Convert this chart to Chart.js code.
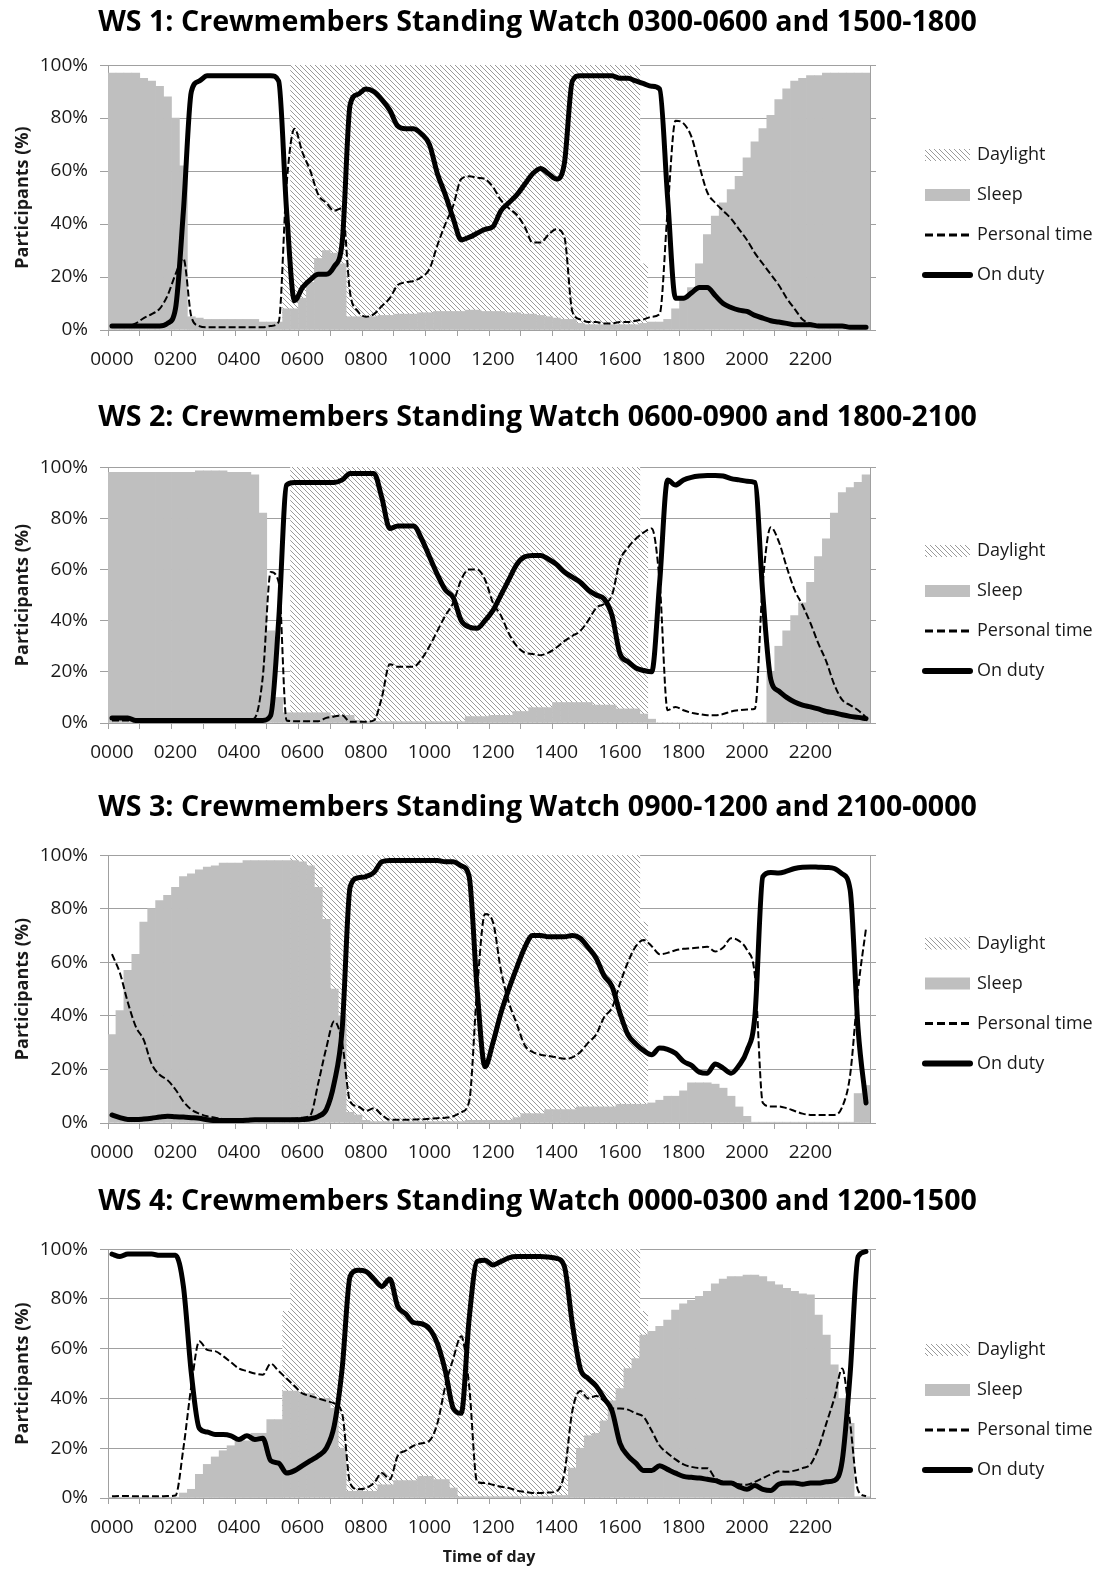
<!DOCTYPE html>
<html>
<head>
<meta charset="utf-8">
<script src="https://cdn.jsdelivr.net/npm/chart.js@4.4.1/dist/chart.umd.min.js"></script>
<style>
html,body{margin:0;padding:0;background:#fff;}
#wrap{position:relative;width:1101px;height:1572px;overflow:hidden;}
canvas{position:absolute;left:0;}
</style>
</head>
<body>
<div id="wrap">
<canvas id="c1" width="1101" height="375" style="top:0px"></canvas>
<canvas id="c2" width="1101" height="393" style="top:375px"></canvas>
<canvas id="c3" width="1101" height="400" style="top:768px"></canvas>
<canvas id="c4" width="1101" height="404" style="top:1168px"></canvas>
</div>
<script>
// ---------- categories (15-minute slots) ----------
const timeLabels = [
'0000','0015','0030','0045','0100','0115','0130','0145',
'0200','0215','0230','0245','0300','0315','0330','0345',
'0400','0415','0430','0445','0500','0515','0530','0545',
'0600','0615','0630','0645','0700','0715','0730','0745',
'0800','0815','0830','0845','0900','0915','0930','0945',
'1000','1015','1030','1045','1100','1115','1130','1145',
'1200','1215','1230','1245','1300','1315','1330','1345',
'1400','1415','1430','1445','1500','1515','1530','1545',
'1600','1615','1630','1645','1700','1715','1730','1745',
'1800','1815','1830','1845','1900','1915','1930','1945',
'2000','2015','2030','2045','2100','2115','2130','2145',
'2200','2215','2230','2245','2300','2315','2330','2345'];
const tickLabels = ['0000','0200','0400','0600','0800','1000','1200','1400','1600','1800','2000','2200'];
const yTicks = [0,20,40,60,80,100];
const seriesNames = ['Daylight','Sleep','Personal time','On duty'];
const chartTitles = [
'WS 1: Crewmembers Standing Watch 0300-0600 and 1500-1800',
'WS 2: Crewmembers Standing Watch 0600-0900 and 1800-2100',
'WS 3: Crewmembers Standing Watch 0900-1200 and 2100-0000',
'WS 4: Crewmembers Standing Watch 0000-0300 and 1200-1500'];

// ---------- WS 1 ----------
const ws1Daylight = [
0,0,0,0,0,0,0,0, 0,0,0,0,0,0,0,0, 0,0,0,0,0,0,25,100,
100,100,100,100,100,100,100,100, 100,100,100,100,100,100,100,100, 100,100,100,100,100,100,100,100,
100,100,100,100,100,100,100,100, 100,100,100,100,100,100,100,100, 100,100,100,25,0,0,0,0,
0,0,0,0,0,0,0,0, 0,0,0,0,0,0,0,0, 0,0,0,0,0,0,0,0];
const ws1Sleep = [
97,97,97,97,95,94,92,88, 80,62,5,4.5,4,4,4,4, 4,4,4,3,3,3,8,8,
12,18,27,30,29,25,5,5, 5,5,5.5,5.5,6,6,6,6.5, 6.5,7,7,7,7,7.5,7.5,7,
7,7,6.5,6.5,6,6,5.5,5, 4.5,4,4,2.5,2,2,2,2, 2,2,2,2.5,3,3,4,8,
12,16,25,36,43,48,53,58, 65,71,76,81,87,91,94,95, 96,96,97,97,97,97,97,97];
const ws1Personal = [
1.5,1.5,1.5,2.5,4.5,6,8,13, 21,27,5,1.5,1,1,1,1, 1,1,1,1,1.5,3,55,76,
67,60,51,48,45,46,14,7, 5,6,9,12,17,18,18.5,20, 23,32,40,47,57,58,57.5,57,
54,49,46,43.5,39,33,33,36, 38,35,7,4,3,3,2.5,2.5, 3,3,3.5,4,5,6,45,79,
78,73,62,52,48,45,42,38, 34,29,25,21,17,12,8,4, 2.5,2,1.5,1.5,1.5,1,1,1];
const ws1Duty = [
1.5,1.5,1.5,1.5,1.5,1.5,1.5,2.5, 8,45,90,94,96,96,96,96, 96,96,96,96,96,94,45,11,
16,19,21,21,24,33,85,89, 91,90,87,83,77,76,76,74, 70,59,51,42,34,35,36.5,38,
39,45,48,51,55,59,61,59, 57,63,94,96,96,96,96,96, 95,95,94,93,92,91,50,12,
12,14,16,16,13,10,8.5,7.5, 7,5.5,4.5,3.5,3,2.5,2,2, 2,1.5,1.5,1.5,1.5,1,1,1];

// ---------- WS 2 ----------
const ws2Daylight = [
0,0,0,0,0,0,0,0, 0,0,0,0,0,0,0,0, 0,0,0,0,0,0,0,100,
100,100,100,100,100,100,100,100, 100,100,100,100,100,100,100,100, 100,100,100,100,100,100,100,100,
100,100,100,100,100,100,100,100, 100,100,100,100,100,100,100,100, 100,100,100,75,0,0,0,0,
0,0,0,0,0,0,0,0, 0,0,0,0,0,0,0,0, 0,0,0,0,0,0,0,0];
const ws2Sleep = [
98,98,98,98,98,98,98,98, 98,98,98,98.5,98.5,98.5,98.5,98, 98,98,97,82,36,10,4,4,
4,4,4,4,3,3,3,1, 0.5,0.5,0.5,0.5,0.5,0.5,0.5,0.5, 0.5,0.5,0.5,0.5,0.5,2.5,2.5,2.5,
3,3,3,4.5,4.5,6,6,6, 8,8,8,8,8,7,7,7, 5.5,5.5,5.5,3.5,1.5,0,0,0,
0,0,0,0,0,0,0,0, 0,0,0,20,30,36,42,47, 55,65,72,82,90,92,94,97];
const ws2Personal = [
1,1,1,1,1,1,1,1, 1,1,1,1,1,1,1,1, 1,1,2,18,59,55,1,0.7,
0.7,0.7,0.7,2,2.5,3,0.5,0.5, 0.5,1,10,23,22,22,22,25, 30,36,42,47,56,60,60,56,
47,42,35,30,27.5,27,26.5,27.5, 29.5,32,34,36,40,45,46.5,50, 63.5,68.5,72,74.5,76,55,5,6.3,
5,4,3.5,3,3,3.5,4.5,5, 5.3,5.6,55,76.5,71,61,52,46, 39,31,24,15,9,7,5,2.3];
const ws2Duty = [
2,2,2,1,1,1,1,1, 1,1,1,1,1,1,1,1, 1,1,1,1,3,40,93,94,
94,94,94,94,94,95,97.5,97.5, 97.5,97.5,88,76,77,77,77,72, 65,58,52,49,40,37.5,37,40,
44,50,56,62,65,65.5,65.5,64, 62,59,57,55,52,50,48.5,42, 27,24,21.5,20.5,20,55,95,93,
95,96,96.5,96.7,96.7,96.5,95.5,95, 94.5,94,50,17,12.5,10,8.2,7, 6.3,5.5,4.5,4,3.2,2.6,2.2,1.7];

// ---------- WS 3 ----------
const ws3Daylight = [
0,0,0,0,0,0,0,0, 0,0,0,0,0,0,0,0, 0,0,0,0,0,0,75,100,
100,100,100,100,100,100,100,100, 100,100,100,100,100,100,100,100, 100,100,100,100,100,100,100,100,
100,100,100,100,100,100,100,100, 100,100,100,100,100,100,100,100, 100,100,100,75,0,0,0,0,
0,0,0,0,0,0,0,0, 0,0,0,0,0,0,0,0, 0,0,0,0,0,0,0,0];
const ws3Sleep = [
33,42,57,63,75,80,83,85, 88,92,93,94.5,95.5,96,97,97, 97,98,98,98,98,98,98,98,
97.5,96,88,76,50,40,4,3, 1,0.5,0.5,0.5,0.5,0.5,0.5,0.5, 0.5,0.5,0.5,0.5,0.5,1,1,1,
1,1,1,2,3.5,3.5,3.5,5, 5,5,5,6,6,6,6,6, 7,7,7,7,7.5,8.5,10,10,
12,15,15,15,14.5,13,10,6, 2.5,0.3,0.3,0.3,0.3,0.3,0.3,0.3, 0.3,0.3,0.3,0.3,0.3,0.3,11,14];
const ws3Personal = [
63,56,45,36,31,22,18,16, 12.5,8,5,3.5,2.5,2,1.5,1.3, 1.2,1.2,1.2,1.2,1.2,1.2,1.5,1.6,
2,3,15,28,38,30,8,6.2, 4.5,5.5,3,1.2,1.2,1.2,1.3,1.4, 1.6,1.8,2,2.5,4,8,50,78,
75,57,45,37,29,26.5,25.5,25, 24.5,24,24.5,26.5,30,33,39.5,43, 52,60,66,68.3,66,63,63.5,64.5,
65,65.2,65.5,65.8,64,65.5,69,68, 64.6,55,7.5,6.2,6.2,5.5,4.5,3.5, 3,3,3,3,6,18,50,72.7];
const ws3Duty = [
3,2,1.3,1.3,1.5,1.8,2.2,2.5, 2.3,2.2,2,1.8,1.2,0.9,0.9,0.9, 0.9,1,1.2,1.2,1.2,1.2,1.2,1.2,
1.3,1.6,2.5,5,15,35,88,91.5, 92,93.5,97.5,98,98,98,98,98, 98,98,97.5,97.5,96,92,50,21,
30,41,50,58,65.5,70,70,69.5, 69.5,69.5,70,69,65.5,61.5,55,51, 41,33,29.5,27,25.5,28,27.5,26,
23,21.5,19,18.6,22,20.5,18.6,21.5, 27,40,92,93.5,93.3,94,95,95.5, 95.6,95.5,95.4,95,93,87,35,7.5];

// ---------- WS 4 ----------
const ws4Daylight = [
0,0,0,0,0,0,0,0, 0,0,0,0,0,0,0,0, 0,0,0,0,0,0,75,100,
100,100,100,100,100,100,100,100, 100,100,100,100,100,100,100,100, 100,100,100,100,100,100,100,100,
100,100,100,100,100,100,100,100, 100,100,100,100,100,100,100,100, 100,100,100,75,0,0,0,0,
0,0,0,0,0,0,0,0, 0,0,0,0,0,0,0,0, 0,0,0,0,0,0,0,0];
const ws4Sleep = [
0.3,0.3,0.3,0.3,0.3,0.3,0.3,0.3, 0.3,2,3.5,9.5,13.5,16.5,19,21, 23,23,26,26,31.5,31.5,43,43,
42,42,40,40,36,20,2.7,2.7, 2.7,2.7,5.3,5.3,7,7,7,8.7, 8.7,7.4,7.4,4,0.5,0.5,0.5,0.5,
0.5,0.5,0.5,0.5,0.5,0.5,0.5,0.5, 1,1,12,20,25,26,31,39, 44,52,56,65.5,67,69,71.5,75.5,
78,79.4,81,83,86,88,89,89, 89.6,89.6,89,87,85.6,84.2,83,82, 81.6,73.5,65.5,53.5,40,30,0.5,0.5];
const ws4Personal = [
0.7,0.8,0.8,0.7,0.7,0.7,0.7,0.8, 1,20,45,63,59.5,59,57,54.5, 52,51,50,49.5,54,51,48,45,
42,41,40,39,38,34,6,3.5, 4,6,10,7.5,17,19,21,22, 23,30,45,56,65,45,6.5,6,
5.3,4.5,4,3,2.5,2,2,2.2, 2.7,10,35,43,40,41,39,36, 36,35.5,34,32.5,27,21,18,15.5,
13.5,12.5,12,12,8,6.5,6,5.5, 5.3,6.5,8,9.5,10.7,10.5,11,12, 13.5,20,30,40,52,30,3,0.7];
const ws4Duty = [
98,97,98,98,98,98,97.5,97.5, 97.5,85,50,28,26.5,25.5,25.5,25, 23.5,25,23.5,24,15,14,10,11,
13,15,17,20,29,52,89,91.5, 91,88,85,88,77,74,70.5,70, 68,62,51,36,34,72,95,95.5,
93.6,95,96.5,97,97,97,97,96.8, 96.3,93,70,52,48,45,40,35, 22,17,14,11,11,13,11.5,10,
8.7,8.3,8,7.5,7,6,6,4.5, 3.5,5,3.5,3,5.5,6,6,5.5, 6,6,6.5,7,15,50,97,99];

// ---------- build ----------
Chart.defaults.font.family = '"Open Sans", sans-serif';
Chart.defaults.color = '#1a1a1a';
const AXIS = '#a0a0a0';
const SLEEP = '#bfbfbf';

function makeHatch() {
  const c = document.createElement('canvas');
  c.width = 5; c.height = 5;
  const g = c.getContext('2d');
  g.fillStyle = '#ffffff'; g.fillRect(0, 0, 5, 5);
  g.strokeStyle = '#9a9a9a'; g.lineWidth = 1;
  g.beginPath();
  g.moveTo(-1, -1); g.lineTo(6, 6);
  g.moveTo(-1, 4); g.lineTo(1, 6);
  g.moveTo(4, -1); g.lineTo(6, 1);
  g.stroke();
  return g.createPattern(c, 'repeat');
}

const sideLegend = {
  id: 'sideLegend',
  afterDraw(chart, args, opts) {
    const ctx = chart.ctx;
    const x0 = 925, x1 = 970, tx = 977;
    ctx.save();
    chart.data.datasets.forEach((ds, k) => {
      const y = opts.cy + (k - 1.5) * 40;
      ctx.save();
      if (ds.type === 'bar') {
        ctx.fillStyle = ds.backgroundColor;
        ctx.fillRect(x0, y - 6, x1 - x0, 12);
      } else {
        ctx.strokeStyle = ds.borderColor;
        ctx.lineWidth = ds.legendLineWidth;
        ctx.setLineDash(ds.legendDash || []);
        ctx.lineCap = ds.legendDash ? 'butt' : 'round';
        ctx.beginPath();
        ctx.moveTo(x0, y); ctx.lineTo(x1, y);
        ctx.stroke();
      }
      ctx.restore();
      ctx.font = '18px "Open Sans", sans-serif';
      ctx.fillStyle = '#1a1a1a';
      ctx.textBaseline = 'middle';
      ctx.textAlign = 'left';
      ctx.fillText(ds.label, tx, y);
    });
    ctx.restore();
  }
};

const layouts = [
  {id: 'c1', title: chartTitles[0], pt: 8.5, pb: 28, xh: 45, cy: 215, xTitle: false,
   d: ws1Daylight, s: ws1Sleep, p: ws1Personal, o: ws1Duty},
  {id: 'c2', title: chartTitles[1], pt: 29, pb: 34.5, xh: 45, cy: 611 - 375, xTitle: false,
   d: ws2Daylight, s: ws2Sleep, p: ws2Personal, o: ws2Duty},
  {id: 'c3', title: chartTitles[2], pt: 26, pb: 32.5, xh: 45, cy: 1003.5 - 768, xTitle: false,
   d: ws3Daylight, s: ws3Sleep, p: ws3Personal, o: ws3Duty},
  {id: 'c4', title: chartTitles[3], pt: 20, pb: 32.5, xh: 74, cy: 1410 - 1168, xTitle: true,
   d: ws4Daylight, s: ws4Sleep, p: ws4Personal, o: ws4Duty}
];

const hatch = makeHatch();

layouts.forEach(L => {
  new Chart(document.getElementById(L.id), {
    type: 'bar',
    data: {
      labels: timeLabels,
      datasets: [
        {type: 'bar', label: seriesNames[0], data: L.d, backgroundColor: hatch, borderWidth: 0,
         barPercentage: 1, categoryPercentage: 1, grouped: false, order: 4},
        {type: 'bar', label: seriesNames[1], data: L.s, backgroundColor: SLEEP, borderWidth: 0,
         barPercentage: 1, categoryPercentage: 1, grouped: false, order: 3},
        {type: 'line', label: seriesNames[2], data: L.p, borderColor: '#000', borderWidth: 2,
         borderDash: [7, 3], pointRadius: 0, fill: false, cubicInterpolationMode: 'monotone',
         legendLineWidth: 3, legendDash: [8, 4], order: 2},
        {type: 'line', label: seriesNames[3], data: L.o, borderColor: '#000', borderWidth: 5,
         borderJoinStyle: 'round', borderCapStyle: 'round', pointRadius: 0, fill: false,
         cubicInterpolationMode: 'monotone', legendLineWidth: 6, order: 1}
      ]
    },
    options: {
      responsive: false,
      animation: false,
      devicePixelRatio: 1,
      events: [],
      layout: {padding: {left: 0, right: 26, top: 0, bottom: 0}},
      plugins: {
        legend: {display: false},
        tooltip: {enabled: false},
        title: {display: true, text: L.title, color: '#000',
                font: {size: 28.6, weight: 'bold', lineHeight: 1},
                padding: {top: L.pt, bottom: L.pb}},
        sideLegend: {cy: L.cy}
      },
      scales: {
        x: {
          offset: true,
          ticks: {
            autoSkip: false, maxRotation: 0, minRotation: 0, padding: 12,
            font: {size: 19}, color: '#1a1a1a',
            callback(v) { const l = this.getLabelForValue(v); return tickLabels.includes(l) ? l : ''; }
          },
          grid: {offset: true, drawOnChartArea: false, tickLength: 6, color: AXIS,
                 tickColor: c => (c.index % 4 === 0 ? AXIS : 'rgba(0,0,0,0)')},
          border: {color: AXIS, width: 1},
          title: {display: L.xTitle, text: 'Time of day', color: '#1a1a1a',
                  font: {size: 16, weight: 'bold'}, padding: {top: 0, bottom: 5}},
          afterFit(s) { s.height = L.xh; }
        },
        y: {
          min: 0, max: 100,
          afterBuildTicks(s) { s.ticks = yTicks.map(v => ({value: v})); },
          ticks: {padding: 12, font: {size: 19}, color: '#1a1a1a', callback: v => v + '%'},
          grid: {color: AXIS, tickLength: 8, tickColor: AXIS},
          border: {color: AXIS, width: 1},
          title: {display: true, text: 'Participants (%)', color: '#1a1a1a',
                  font: {size: 18, weight: 'bold'}, padding: {top: 12, bottom: 0}},
          afterFit(s) { s.width = 108; }
        },
        y2: {
          position: 'right', min: 0, max: 100,
          afterBuildTicks(s) { s.ticks = yTicks.map(v => ({value: v})); },
          ticks: {display: false},
          grid: {drawOnChartArea: false, tickLength: 6, color: AXIS, tickColor: AXIS},
          border: {color: AXIS, width: 1},
          afterFit(s) { s.width = 205; }
        }
      }
    },
    plugins: [sideLegend]
  });
});
</script>
</body>
</html>
